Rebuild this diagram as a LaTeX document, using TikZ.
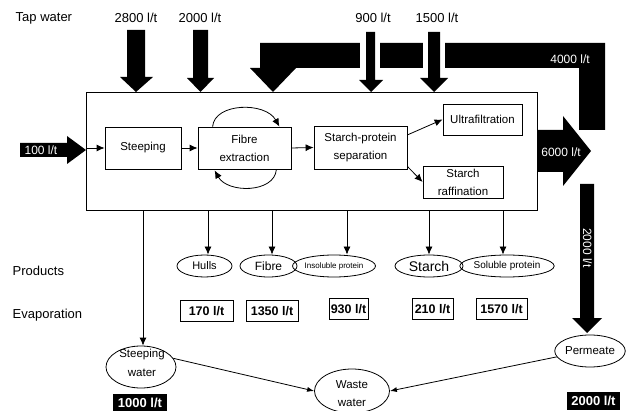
\documentclass[tikz,border=0pt]{standalone}
\usepackage{fontspec}
\setmainfont{Liberation Sans}
\usetikzlibrary{arrows.meta,shapes.geometric,calc}
\begin{document}
\begin{tikzpicture}[x=1pt,y=-1pt,line width=0.8pt,
  procbox/.style={draw,rectangle,inner sep=0pt,align=center,font=\fontsize{11.5}{18}\selectfont},
  ell/.style={draw,ellipse,inner sep=0pt,align=center},
  arr/.style={-{Latex[length=8pt,width=7pt]}},
  sarr/.style={-{Latex[length=7pt,width=5pt]}},
  lbl/.style={font=\fontsize{13}{15}\selectfont},
  evap/.style={draw,rectangle,inner sep=0pt,minimum height=21pt,font=\bfseries\fontsize{12.5}{14}\selectfont},
  blk/.style={fill=black,text=white,inner sep=0pt,minimum height=18pt,font=\bfseries\fontsize{13}{15}\selectfont},
  wtxt/.style={text=white,inner sep=0pt,font=\fontsize{12}{14}\selectfont},
  etxt/.style={inner sep=0pt,align=center,font=\fontsize{11.5}{19}\selectfont}
]
\useasboundingbox (0,0) rectangle (628,411);

% labels on the left
\node[lbl,anchor=west] (tap) at (12,18) {Tap water};
\node[lbl,anchor=west] (prod) at (9,271) {Products};
\node[lbl,anchor=west] (evl) at (9,315) {Evaporation};

% main box and process boxes
\node[draw,rectangle,inner sep=0pt,minimum width=451pt,minimum height=118pt] (main) at (311.5,151) {};
\node[procbox,minimum width=76pt,minimum height=42pt] (steep) at (143,148) {Steeping};
\node[procbox,minimum width=93pt,minimum height=42pt] (fibre) at (244.5,148) {Fibre\\extraction};
\node[procbox,minimum width=93pt,minimum height=43pt] (sp) at (360.5,147.5) {Starch-protein\\separation};
\node[procbox,minimum width=79pt,minimum height=31pt] (ultra) at (482.5,119.5) {Ultrafiltration};
\node[procbox,minimum width=80pt,minimum height=32pt] (raff) at (463,182) {Starch\\raffination};

% big flow arrows
\fill (605,130) -- (605,43) -- (260,43) -- (260,68) -- (250,68) -- (273,92) -- (296,68) -- (579,68) -- (579,130) -- cycle;
\fill[white] (360,40) rectangle (380,72);
\fill[white] (423,40) rectangle (445,72);
\fill (127,30) -- (145,30) -- (145,77) -- (153,77) -- (136,92) -- (120,77) -- (127,77) -- cycle;
\fill (193,30) -- (208,30) -- (208,78) -- (214,78) -- (200.5,92) -- (187,78) -- (193,78) -- cycle;
\fill (366,32) -- (375,32) -- (375,80) -- (383,80) -- (371,92) -- (359,80) -- (366,80) -- cycle;
\fill (428,32) -- (440,32) -- (440,78) -- (448,78) -- (434,92) -- (420,78) -- (428,78) -- cycle;
\fill (537,130) -- (563,130) -- (563,116) -- (591,151) -- (563,186) -- (563,172) -- (537,172) -- cycle;
\fill (580,184) -- (594,184) -- (594,318) -- (602,318) -- (587,333) -- (572,318) -- (580,318) -- cycle;
\fill (20,143) -- (67,143) -- (67,136) -- (86,150) -- (67,164) -- (67,157) -- (20,157) -- cycle;

\node[lbl] (t2800) at (136,18) {2800 l/t};
\node[lbl] (t2000) at (200,18) {2000 l/t};
\node[lbl] (t900) at (373,18) {900 l/t};
\node[lbl] (t1500) at (437,18) {1500 l/t};
\node[wtxt] (t4000) at (570,59) {4000 l/t};
\node[wtxt] (t6000) at (561,152) {6000 l/t};
\node[wtxt,rotate=-90] (t2000d) at (587.5,248) {2000 l/t};
\node[wtxt] (t100) at (41,150) {100 l/t};

% internal connectors
\draw[arr] (main.west |- steep.west) -- (steep.west);
\draw[arr] (steep.east) -- (fibre.west);
\draw[arr] (fibre.east) -- (sp.west);
\draw[arr] (sp.15) -- (ultra.west);
\draw[arr] (sp.-22) -- (raff.west);
\draw[arr] ($(fibre.north west)+(15,0)$) .. controls +(2,-24) and +(-14,-25) .. ($(fibre.north east)+(-12,0)$);
\draw[arr] ($(fibre.south east)+(-15,0)$) .. controls +(-2,24) and +(13,23) .. ($(fibre.south west)+(17,1)$);

% products
\node[ell,minimum width=55pt,minimum height=22pt,font=\fontsize{11}{13}\selectfont] (hulls) at (204.5,266) {Hulls};
\node[ell,minimum width=57pt,minimum height=22pt,font=\fontsize{12}{14}\selectfont] (fib) at (268.5,266) {Fibre};
\node[ell,minimum width=68pt,minimum height=22pt,font=\fontsize{8}{10}\selectfont] (ins) at (334,266) {Insoluble protein};
\node[ell,minimum width=68pt,minimum height=22pt,font=\fontsize{14}{16}\selectfont] (starch) at (429,266) {Starch};
\node[ell,minimum width=82pt,minimum height=22pt,font=\fontsize{10}{12}\selectfont] (sol) at (507,266) {Soluble protein};

\coordinate (c0) at (143,0);
\coordinate (c1) at (208,0);
\coordinate (c2) at (272,0);
\coordinate (c3) at (347,0);
\coordinate (c4) at (429,0);
\coordinate (c5) at (503,0);
\draw[arr] (main.south -| c1) -- (hulls.north -| c1);
\draw[arr] (main.south -| c2) -- (fib.north -| c2);
\draw[arr] (main.south -| c3) -- (ins.north -| c3);
\draw[arr] (main.south -| c4) -- (starch.north -| c4);
\draw[arr] (main.south -| c5) -- (sol.north -| c5);

% evaporation
\node[evap,minimum width=53pt] (e1) at (206.5,311) {170 l/t};
\node[evap,minimum width=52pt] (e2) at (272,311) {1350 l/t};
\node[evap,minimum width=39pt] (e3) at (348.5,309) {930 l/t};
\node[evap,minimum width=41pt] (e4) at (432.5,309) {210 l/t};
\node[evap,minimum width=51pt] (e5) at (501.5,309) {1570 l/t};

% waste streams
\node[ell,minimum width=70pt,minimum height=42pt] (sw) at (141,367) {};
\node[etxt] (swt) at (142,363) {Steeping\\water};
\node[ell,minimum width=75pt,minimum height=44pt] (ww) at (352,391) {};
\node[etxt,font=\fontsize{11.5}{18}\selectfont] (wwt) at (352,394) {Waste\\water};
\node[ell,minimum width=64pt,minimum height=32pt,font=\fontsize{11.5}{14}\selectfont] (perm) at (590,351) {Permeate};
\draw[arr] (main.south -| c0) -- (sw.north -| c0);
\draw[sarr] (sw.15) -- (ww.west);
\draw[sarr] (perm.190) -- (ww.east);

\node[blk,minimum width=54pt] (b1) at (140,403) {1000 l/t};
\node[blk,minimum width=53pt] (b2) at (593.5,401) {2000 l/t};
\end{tikzpicture}
\end{document}
